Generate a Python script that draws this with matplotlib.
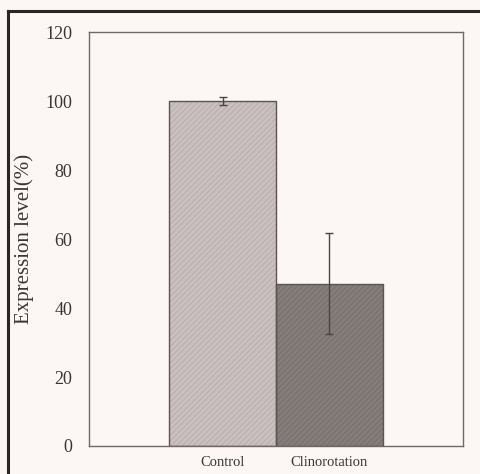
import matplotlib
matplotlib.use("Agg")
import matplotlib.pyplot as plt
from matplotlib.lines import Line2D

# expression levels relative to control
categories = ["Control", "Clinorotation"]
expression = [100.0, 47.0]
errors = [1.2, 14.6]
y_ticks = [0, 20, 40, 60, 80, 100, 120]

bg = "#fcf6f4"
face_colors = ["#c9c0bf", "#847d7a"]
hatch_colors = ["#b3aaa9", "#736c6a"]

plt.rcParams["font.family"] = ["Liberation Serif", "DejaVu Serif"]
plt.rcParams["hatch.linewidth"] = 0.6

fig = plt.figure(figsize=(4.81, 4.74), dpi=100, facecolor=bg)
ax = fig.add_axes([89 / 481, 1 - 446 / 474, 374 / 481, 414 / 474], facecolor=bg)

x = range(len(categories))
# textured fill first, then a plain outline on top
ax.bar(x, expression, width=1.0, color=face_colors, edgecolor=hatch_colors,
       hatch="//////", linewidth=0, zorder=2)
ax.bar(x, expression, width=1.0, fill=False, edgecolor="#5a5452",
       linewidth=1.0, zorder=3)
ax.errorbar(x, expression, yerr=errors, fmt="none", ecolor="#4a4443",
            elinewidth=1.0, capsize=3, capthick=1.0, zorder=4)

ax.set_xlim(-1.25, 2.25)
ax.set_ylim(0, 120)
ax.set_yticks(y_ticks)
ax.set_xticks(list(x))
ax.set_xticklabels(categories, color="#3a3535")
ax.tick_params(axis="both", length=0, labelsize=13, colors="#3a3535")
ax.tick_params(axis="x", labelsize=10.5, pad=7)
ax.tick_params(axis="y", pad=12)
ax.set_ylabel("Expression level(%)", fontsize=15, color="#3a3535", labelpad=8)

for side in ax.spines.values():
    side.set_color("#6e6866")
    side.set_linewidth(1.0)

# outer frame along the left and top edges
fig.add_artist(Line2D([8 / 481, 8 / 481], [0, 1 - 11 / 474],
                      transform=fig.transFigure, color="#2a2626", linewidth=2.2))
fig.add_artist(Line2D([8 / 481, 1], [1 - 11 / 474, 1 - 11 / 474],
                      transform=fig.transFigure, color="#2a2626", linewidth=2.2))

fig.savefig("out.png", dpi=100, facecolor=bg)
